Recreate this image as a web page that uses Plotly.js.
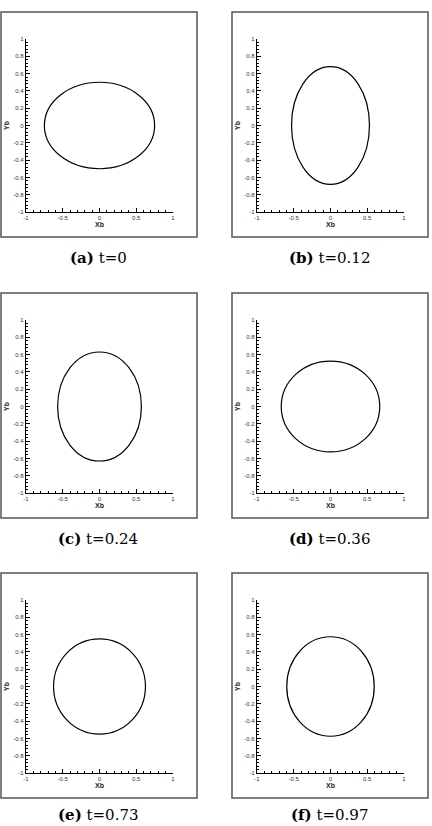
<!DOCTYPE html>
<html>
<head>
<meta charset="utf-8">
<script src="https://cdn.plot.ly/plotly-3.0.1.min.js"></script>
<style>html,body{margin:0;padding:0;background:#fff;}#chart{width:432px;height:826px;}</style>
</head>
<body>
<div id="chart"></div>
<script>
// Data
const panelLetters = ["(a)", "(b)", "(c)", "(d)", "(e)", "(f)"];
const panelTimes = ["t=0", "t=0.12", "t=0.24", "t=0.36", "t=0.73", "t=0.97"];
const semiAxisX = [0.75, 0.53, 0.57, 0.67, 0.625, 0.595];
const semiAxisY = [0.50, 0.68, 0.63, 0.525, 0.55, 0.575];
const centerX = [0, 0, 0, 0, 0, 0];
const centerY = [0, 0, 0, 0, 0, 0];
const xTickVals = [-1, -0.5, 0, 0.5, 1];
const xTickText = ["-1", "-0.5", "0", "0.5", "1"];
const yTickVals = [-1, -0.8, -0.6, -0.4, -0.2, 0, 0.2, 0.4, 0.6, 0.8, 1];
const yTickText = ["-1", "-0.8", "-0.6", "-0.4", "-0.2", "0", "0.2", "0.4", "0.6", "0.8", "1"];
const xTitle = "Xb";
const yTitle = "Yb";

const W = 432, H = 826;
const colLeft = [1, 232];
const rowTop = [12, 293, 573];
const captionOffset = [246, 246, 242];
const px = v => v / W;
const py = v => 1 - v / H;

const traces = [];
const layout = {
  width: W, height: H,
  margin: {l: 0, r: 0, t: 0, b: 0},
  paper_bgcolor: "#fff", plot_bgcolor: "#fff",
  showlegend: false,
  shapes: [], annotations: []
};

const tickFont = {family: "Liberation Sans, Arial, sans-serif", size: 6, color: "#333"};
const titleFont = {family: "Liberation Sans, Arial, sans-serif", size: 7, color: "#222"};

for (let i = 0; i < 6; i++) {
  const col = i % 2, row = Math.floor(i / 2);
  const fl = colLeft[col], ft = rowTop[row];
  const n = i === 0 ? "" : String(i + 1);
  const xa = "xaxis" + n, ya = "yaxis" + n;
  const xr = "x" + n, yr = "y" + n;

  traces.push({x: [], y: [], type: "scatter", mode: "lines", xaxis: xr, yaxis: yr, hoverinfo: "skip"});

  layout[xa] = {
    domain: [px(fl + 25), px(fl + 172)],
    anchor: yr, range: [-1, 1], fixedrange: true,
    showgrid: false, zeroline: false, showline: true, linecolor: "#000", linewidth: 1.2,
    ticks: "inside", ticklen: 4, tickwidth: 1, tickcolor: "#000",
    tickmode: "array", tickvals: xTickVals, ticktext: xTickText,
    tickfont: tickFont, ticklabelstandoff: 0,
    minor: {dtick: 0.1, ticks: "inside", ticklen: 2, tickcolor: "#000", tickwidth: 1, showgrid: false},
    title: {text: "<b>" + xTitle + "</b>", font: titleFont, standoff: 1},
    automargin: false
  };
  layout[ya] = {
    domain: [py(ft + 200), py(ft + 27)],
    anchor: xr, range: [-1, 1], fixedrange: true,
    showgrid: false, zeroline: false, showline: true, linecolor: "#000", linewidth: 1.2,
    ticks: "inside", ticklen: 4, tickwidth: 1, tickcolor: "#000",
    tickmode: "array", tickvals: yTickVals, ticktext: yTickText,
    tickfont: tickFont, ticklabelstandoff: 0,
    minor: {dtick: 0.04, ticks: "inside", ticklen: 2, tickcolor: "#000", tickwidth: 1, showgrid: false},
    title: {text: "<b>" + yTitle + "</b>", font: titleFont, standoff: 2},
    automargin: false
  };

  // ellipse through the subplot's own axes
  layout.shapes.push({
    type: "circle", xref: xr, yref: yr,
    x0: centerX[i] - semiAxisX[i], x1: centerX[i] + semiAxisX[i],
    y0: centerY[i] - semiAxisY[i], y1: centerY[i] + semiAxisY[i],
    line: {color: "#000", width: 1.2}
  });

  // panel frame
  layout.shapes.push({
    type: "rect", xref: "paper", yref: "paper",
    x0: px(fl), x1: px(fl + 196), y0: py(ft + 225), y1: py(ft),
    line: {color: "#555", width: 1.5}
  });

  // caption
  layout.annotations.push({
    xref: "paper", yref: "paper", x: px(fl + 97), y: py(ft + captionOffset[row]),
    xanchor: "center", yanchor: "middle", showarrow: false,
    text: "<b>" + panelLetters[i] + "</b> " + panelTimes[i],
    font: {family: "DejaVu Serif, serif", size: 15, color: "#000"}
  });
}

Plotly.newPlot("chart", traces, layout, {staticPlot: true, displayModeBar: false});
</script>
</body>
</html>
